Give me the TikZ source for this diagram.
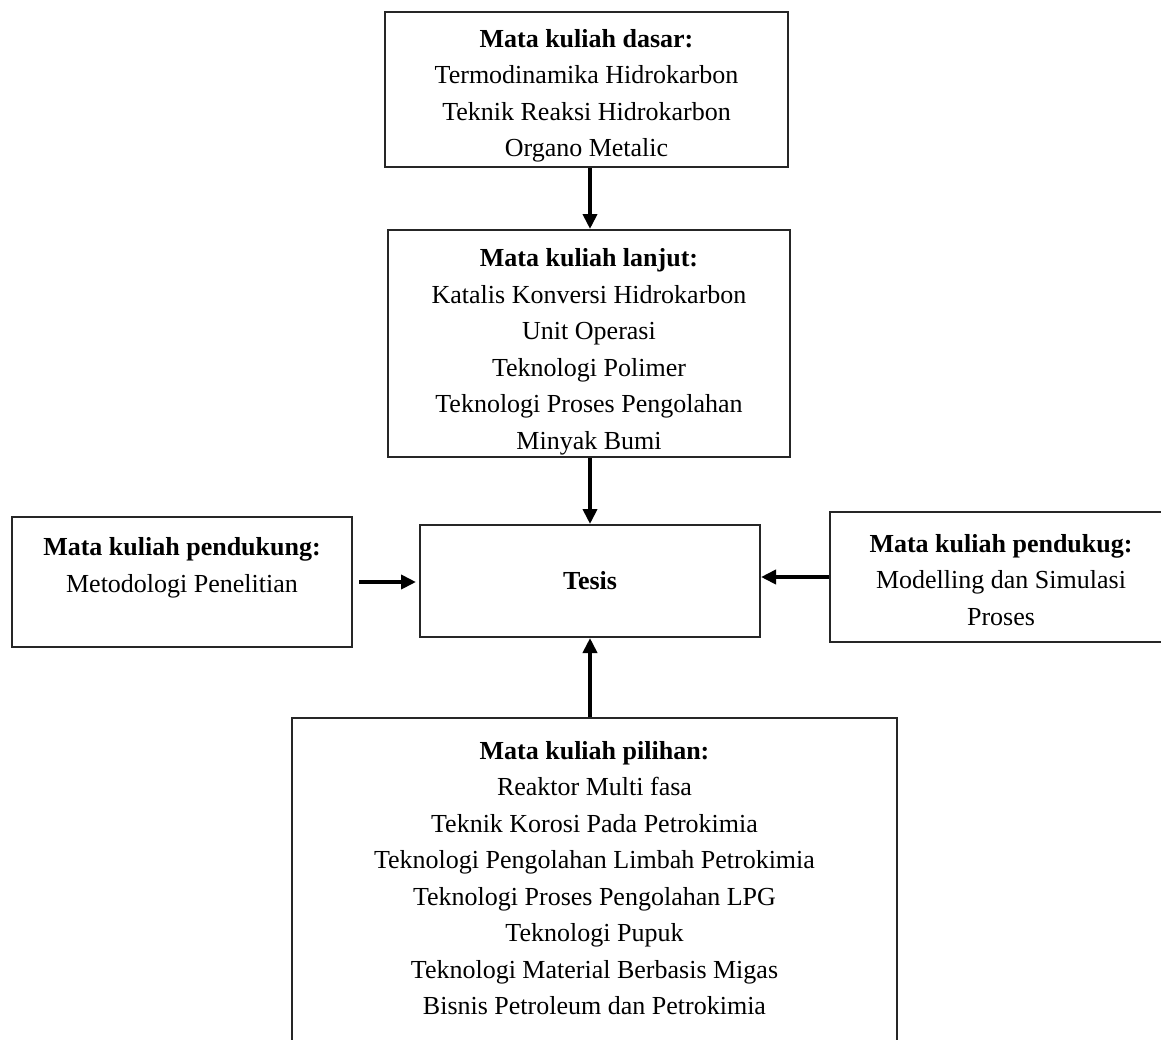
\documentclass[tikz,border=0pt]{standalone}
\usepackage{fontspec}
\setmainfont{Liberation Serif}
\usetikzlibrary{arrows.meta}
\begin{document}
\begin{tikzpicture}[x=0.5pt,y=-0.5pt,
  box/.style={draw=black!85, line width=1pt, inner sep=0pt},
  txt/.style={align=center, font=\fontsize{13}{18.25}\selectfont, inner sep=0pt},
  arr/.style={line width=2pt, -{Triangle[length=7.5pt,width=7pt]}}]
\clip (0,0) rectangle (1161,1039);
\fill[white] (0,0) rectangle (1161,1039);
% boxes
\node[box, minimum width=201.5pt, minimum height=77.5pt] (top) at (586.5,89.5) {};
\node[txt] (toptxt) at (586.5,96)
  {\textbf{Mata kuliah dasar:}\\Termodinamika Hidrokarbon\\Teknik Reaksi Hidrokarbon\\Organo Metalic};
\node[box, minimum width=201pt, minimum height=113.5pt] (mid) at (589,343.5) {};
\node[txt] (midtxt) at (589,352)
  {\textbf{Mata kuliah lanjut:}\\Katalis Konversi Hidrokarbon\\Unit Operasi\\Teknologi Polimer\\Teknologi Proses Pengolahan\\Minyak Bumi};
\node[box, txt, minimum width=170pt, minimum height=56pt] (tesis) at (590,581)
  {\textbf{Tesis}};
\node[box, minimum width=170pt, minimum height=65pt] (left) at (182,582) {};
\node[txt] (lefttxt) at (182,568) {\textbf{Mata kuliah pendukung:}\\Metodologi Penelitian};
\node[box, minimum width=171pt, minimum height=65pt] (right) at (1001,577) {};
\node[txt] (righttxt) at (1001,580)
  {\textbf{Mata kuliah pendukug:}\\Modelling dan Simulasi\\Proses};
\node[box, minimum width=302.5pt, minimum height=171pt] (bot) at (594.5,889) {};
\node[txt] (bottxt) at (594.5,878)
  {\textbf{Mata kuliah pilihan:}\\Reaktor Multi fasa\\Teknik Korosi Pada Petrokimia\\Teknologi Pengolahan Limbah Petrokimia\\Teknologi Proses Pengolahan LPG\\Teknologi Pupuk\\Teknologi Material Berbasis Migas\\Bisnis Petroleum dan Petrokimia};
% arrows
\draw[arr] (top.south -| tesis.north) -- (mid.north -| tesis.north);
\draw[arr] (mid.south -| tesis.north) -- (tesis.north);
\draw[arr] (bot.north -| tesis.south) -- (tesis.south);
\draw[arr, shorten <=3pt, shorten >=1.5pt] (left.east) -- (left.east -| tesis.west);
\draw[arr] (right.west) -- (right.west -| tesis.east);
\end{tikzpicture}
\end{document}
